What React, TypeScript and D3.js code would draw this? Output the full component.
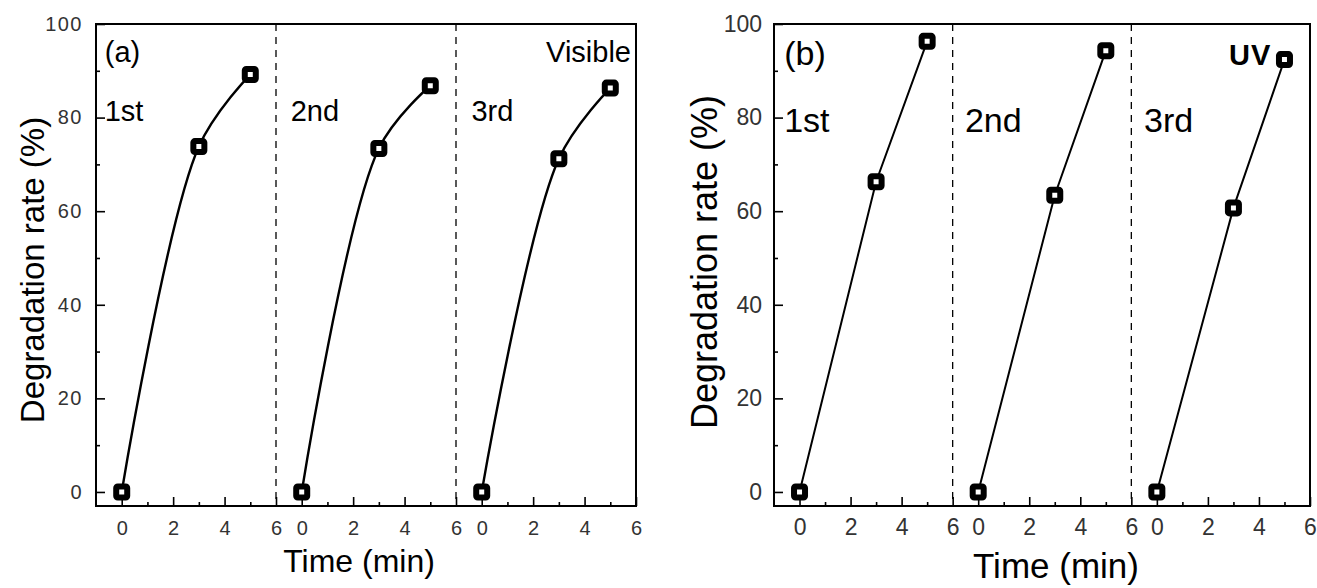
import React, { useEffect, useRef } from 'react';
import * as d3 from 'd3';

// three consecutive runs per light source, time in minutes
const sections = ['1st', '2nd', '3rd'];
const timeMin = [0, 3, 5];
const visibleRate = [
    [0, 73.8, 89.2],
    [0, 73.4, 86.8],
    [0, 71.2, 86.3],
];
const uvRate = [
    [0, 66.3, 96.3],
    [0, 63.4, 94.3],
    [0, 60.7, 92.4],
];
const timeTickLabels = [0, 2, 4, 6];
const timeMinorTicks = [1, 3, 5];
const rateTicks = [0, 20, 40, 60, 80, 100];
const rateMinorTicks = [10, 30, 50, 70, 90];

// each run is shifted by 7 min on one continuous axis
const SPAN = 7;

type Panel = {
    left: number;
    right: number;
    letter: string;
    letterBase: number;
    tag: string;
    tagBold: boolean;
    tagX: number;
    tagY: number;
    tagAnchor: string;
    data: number[][];
    curve: d3.CurveFactory;
    lineWidth: number;
    tickFont: number;
    tickLetter: number;
    tickPad: number;
    tickSpacing: number;
    labelFont: number;
    sectionY: number;
    sectionX: number[];
    titleFont: number;
    xTitleX: number;
    xTitleY: number;
    yTitleFont: number;
    yTitleX: number;
    yTitleY: number;
};

const panels: Panel[] = [
    {
        left: 96,
        right: 636,
        letter: '(a)',
        letterBase: 62,
        tag: 'Visible',
        tagBold: false,
        tagX: 631,
        tagY: 62,
        tagAnchor: 'end',
        data: visibleRate,
        curve: d3.curveCatmullRom.alpha(0.5),
        lineWidth: 2.4,
        tickFont: 20,
        tickLetter: 1.5,
        tickPad: 15,
        tickSpacing: 13,
        labelFont: 29,
        sectionY: 79.2,
        sectionX: [-0.66, 6.57, 13.6],
        titleFont: 32,
        xTitleX: 359,
        xTitleY: 572,
        yTitleFont: 33,
        yTitleX: 44,
        yTitleY: 270,
    },
    {
        left: 774,
        right: 1310,
        letter: '(b)',
        letterBase: 65,
        tag: 'UV',
        tagBold: true,
        tagX: 1229,
        tagY: 65,
        tagAnchor: 'start',
        data: uvRate,
        curve: d3.curveLinear,
        lineWidth: 2,
        tickFont: 23,
        tickLetter: 0,
        tickPad: 12.7,
        tickSpacing: 12,
        labelFont: 34,
        sectionY: 76.9,
        sectionX: [-0.6, 6.48, 13.5],
        titleFont: 35,
        xTitleX: 1056,
        xTitleY: 578,
        yTitleFont: 36,
        yTitleX: 717,
        yTitleY: 262,
    },
];

const TOP = 24;
const BOTTOM = 506;
const FONT = '"Liberation Sans", Arial, sans-serif';

function drawPanel(svg: d3.Selection<SVGSVGElement, unknown, null, undefined>, p: Panel) {
    const x = d3.scaleLinear().domain([-1, 20]).range([p.left, p.right]);
    const y = d3.scaleLinear().domain([-3, 100]).range([BOTTOM, TOP]);

    const g = svg.append('g');

    const majorX = sections.flatMap((_, i) => timeTickLabels.map((t) => t + i * SPAN));
    const minorX = sections.flatMap((_, i) => timeMinorTicks.map((t) => t + i * SPAN));

    // bottom axis, ticks pointing inwards
    const xAxis = g.append('g')
        .attr('transform', `translate(0,${BOTTOM})`)
        .call(d3.axisBottom(x)
            .tickValues(majorX)
            .tickSizeInner(-9)
            .tickSizeOuter(0)
            .tickPadding(p.tickPad)
            .tickFormat((d) => String(Math.round(+d) % SPAN)));
    xAxis.select('.domain').remove();
    xAxis.selectAll('line').attr('stroke-width', 1.6);
    xAxis.selectAll('text')
        .attr('font-family', FONT)
        .attr('font-size', p.tickFont)
        .attr('fill', '#333');

    const xMinor = g.append('g')
        .attr('transform', `translate(0,${BOTTOM})`)
        .call(d3.axisBottom(x).tickValues(minorX).tickSizeInner(-4).tickSizeOuter(0).tickFormat(() => ''));
    xMinor.select('.domain').remove();
    xMinor.selectAll('line').attr('stroke-width', 1.6);

    // left axis
    const yAxis = g.append('g')
        .attr('transform', `translate(${p.left},0)`)
        .call(d3.axisLeft(y)
            .tickValues(rateTicks)
            .tickSizeInner(-9)
            .tickSizeOuter(0)
            .tickPadding(p.tickSpacing));
    yAxis.select('.domain').remove();
    yAxis.selectAll('line').attr('stroke-width', 1.6);
    yAxis.selectAll('text')
        .attr('font-family', FONT)
        .attr('font-size', p.tickFont)
        .attr('letter-spacing', p.tickLetter)
        .attr('fill', '#333');

    const yMinor = g.append('g')
        .attr('transform', `translate(${p.left},0)`)
        .call(d3.axisLeft(y).tickValues(rateMinorTicks).tickSizeInner(-4).tickSizeOuter(0).tickFormat(() => ''));
    yMinor.select('.domain').remove();
    yMinor.selectAll('line').attr('stroke-width', 1.6);

    // frame
    g.append('rect')
        .attr('x', p.left)
        .attr('y', TOP)
        .attr('width', p.right - p.left)
        .attr('height', BOTTOM - TOP)
        .attr('fill', 'none')
        .attr('stroke', 'black')
        .attr('stroke-width', 2);

    // dashed separators between runs
    g.selectAll('.sep')
        .data([6, 6 + SPAN])
        .enter()
        .append('line')
        .attr('x1', (d) => x(d))
        .attr('x2', (d) => x(d))
        .attr('y1', TOP)
        .attr('y2', BOTTOM)
        .attr('stroke', 'black')
        .attr('stroke-width', 1.3)
        .attr('stroke-dasharray', '7,6');

    const line = d3.line<[number, number]>()
        .x((d) => x(d[0]))
        .y((d) => y(d[1]))
        .curve(p.curve);

    p.data.forEach((run, i) => {
        const pts: [number, number][] = run.map((v, k) => [timeMin[k] + i * SPAN, v]);
        g.append('path')
            .attr('d', line(pts))
            .attr('fill', 'none')
            .attr('stroke', 'black')
            .attr('stroke-width', p.lineWidth);
        g.selectAll(`.m${i}`)
            .data(pts)
            .enter()
            .append('rect')
            .attr('x', (d) => x(d[0]) - 5.5)
            .attr('y', (d) => y(d[1]) - 5.5)
            .attr('width', 11)
            .attr('height', 11)
            .attr('rx', 1.5)
            .attr('fill', 'white')
            .attr('stroke', 'black')
            .attr('stroke-width', 6);
    });

    // labels
    g.append('text')
        .attr('x', x(p.sectionX[0]))
        .attr('y', p.letterBase)
        .attr('font-family', FONT)
        .attr('font-size', p.labelFont)
        .text(p.letter);

    g.selectAll('.sec')
        .data(sections)
        .enter()
        .append('text')
        .attr('x', (_, i) => x(p.sectionX[i]))
        .attr('y', y(p.sectionY))
        .attr('font-family', FONT)
        .attr('font-size', p.labelFont)
        .text((d) => d);

    g.append('text')
        .attr('x', p.tagX)
        .attr('y', p.tagY)
        .attr('text-anchor', p.tagAnchor)
        .attr('font-family', FONT)
        .attr('font-size', p.tagBold ? 29 : p.labelFont)
        .attr('font-weight', p.tagBold ? 'bold' : 'normal')
        .attr('letter-spacing', p.tagBold ? 1 : 0)
        .text(p.tag);

    g.append('text')
        .attr('x', p.xTitleX)
        .attr('y', p.xTitleY)
        .attr('text-anchor', 'middle')
        .attr('font-family', FONT)
        .attr('font-size', p.titleFont)
        .text('Time (min)');

    g.append('text')
        .attr('transform', `translate(${p.yTitleX},${p.yTitleY}) rotate(-90)`)
        .attr('text-anchor', 'middle')
        .attr('font-family', FONT)
        .attr('font-size', p.yTitleFont)
        .text('Degradation rate (%)');
}

export default function App() {
    const ref = useRef<SVGSVGElement>(null);

    useEffect(() => {
        const svg = d3.select(ref.current as SVGSVGElement);
        svg.selectAll('*').remove();
        panels.forEach((p) => drawPanel(svg, p));
    }, []);

    return (
        <svg
            ref={ref}
            width={1317}
            height={588}
            style={{ position: 'absolute', left: 0, top: 0, background: 'white' }}
        />
    );
}
